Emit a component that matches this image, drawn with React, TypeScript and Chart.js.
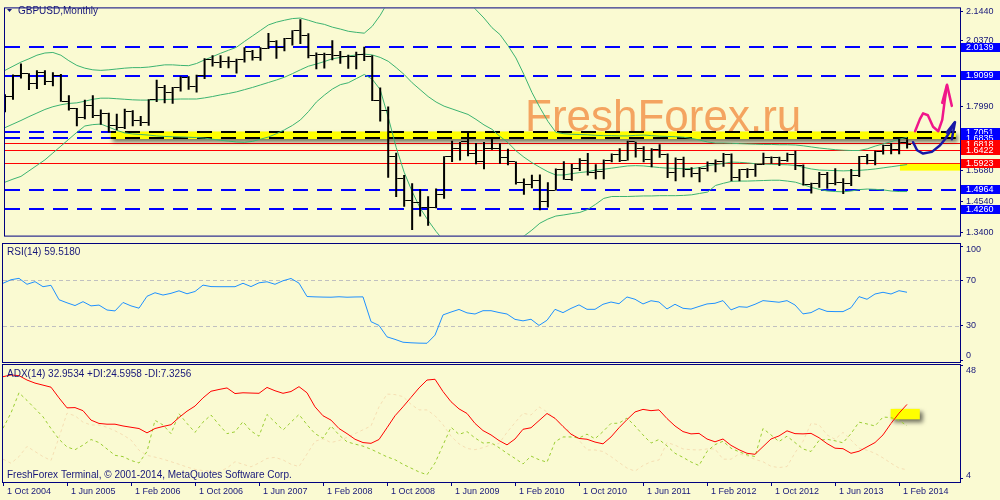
import React, { useEffect, useRef } from "react";
import { Chart, registerables } from "chart.js";

Chart.register(...registerables);

// ---------------- data (monthly bars, first bar = Oct 2004) ----------------
const firstMonth = "Oct 2004";
const opens = [1.8075,1.8335,1.9120,1.9185,1.8830,1.9205,1.8900,1.9115,1.8170,1.7910,
1.7605,1.8010,1.7655,1.7720,1.7280,1.7215,1.7795,1.7470,1.7400,1.8230,
1.8690,1.8495,1.8680,1.9040,1.8730,1.9100,1.9680,1.9580,1.9635,1.9640,
1.9680,1.9995,1.9785,2.0085,2.0330,2.0130,2.0465,2.0740,2.0570,1.9850,
1.9880,1.9870,1.9850,1.9800,1.9790,1.9890,1.9815,1.8200,1.7830,1.6180,
1.5380,1.4590,1.4485,1.4310,1.4335,1.4790,1.6160,1.6455,1.6700,1.6275,
1.5985,1.6450,1.6455,1.6150,1.5990,1.5230,1.5170,1.5295,1.4545,1.4945,
1.5690,1.5335,1.5735,1.6020,1.5580,1.5610,1.6010,1.6250,1.6040,1.6705,
1.6445,1.6060,1.6430,1.6250,1.5590,1.6080,1.5710,1.5540,1.5735,1.5910,
1.6005,1.6230,1.5420,1.5690,1.5685,1.5870,1.6150,1.6130,1.6025,1.6255,
1.5860,1.5170,1.5190,1.5530,1.5205,1.5210,1.5205,1.5495,1.6185,1.6035,
1.6365,1.6560,1.6440,1.6685];
const highs = [1.8435,1.9150,1.9550,1.9195,1.9300,1.9300,1.9235,1.9165,1.8400,1.7935,
1.8235,1.8395,1.7880,1.7760,1.7725,1.7905,1.7850,1.7640,1.8250,1.8960,
1.8770,1.8700,1.9090,1.9090,1.9140,1.9740,1.9850,1.9850,1.9800,1.9725,
2.0135,2.0035,2.0135,2.0655,2.0390,2.0475,2.0760,2.1160,2.0650,1.9950,
1.9940,2.0395,2.0000,1.9870,1.9980,2.0155,1.9850,1.8680,1.7985,1.6305,
1.5500,1.5200,1.4985,1.4730,1.5010,1.6180,1.6745,1.6700,1.7045,1.6665,
1.6695,1.6880,1.6655,1.6455,1.5990,1.5370,1.5510,1.5520,1.5235,1.5740,
1.6000,1.5900,1.6110,1.6300,1.5895,1.6060,1.6280,1.6475,1.6745,1.6710,
1.6545,1.6475,1.6620,1.6280,1.6140,1.6165,1.5780,1.5780,1.5990,1.6060,
1.6300,1.6285,1.5715,1.5750,1.5910,1.6310,1.6175,1.6165,1.6310,1.6380,
1.5880,1.5220,1.5610,1.5610,1.5750,1.5380,1.5715,1.6190,1.6260,1.6385,
1.6600,1.6665,1.6820,1.6800];
const lows = [1.7775,1.8235,1.9005,1.8585,1.8620,1.8765,1.8720,1.8160,1.7840,1.7275,
1.7525,1.7570,1.7325,1.7040,1.7125,1.7170,1.7275,1.7280,1.7290,1.8150,
1.8110,1.8090,1.8535,1.8595,1.8500,1.8985,1.9440,1.9390,1.9380,1.9190,
1.9590,1.9660,1.9650,2.0080,1.9720,1.9995,2.0200,2.0260,1.9740,1.9340,
1.9365,1.9670,1.9540,1.9360,1.9340,1.9640,1.8190,1.7445,1.5400,1.4705,
1.4350,1.3500,1.3995,1.3655,1.4295,1.4640,1.5975,1.6025,1.6180,1.5895,
1.5705,1.6420,1.5910,1.5855,1.5160,1.4780,1.5020,1.4225,1.4320,1.4940,
1.5330,1.5295,1.5650,1.5480,1.5350,1.5345,1.5960,1.5975,1.6025,1.6140,
1.5960,1.5780,1.6125,1.5395,1.5270,1.5420,1.5420,1.5235,1.5625,1.5600,
1.5800,1.5270,1.5270,1.5395,1.5435,1.5865,1.5910,1.5830,1.5980,1.5680,
1.5115,1.4830,1.5040,1.5005,1.5125,1.4815,1.5105,1.5425,1.5895,1.5855,
1.6245,1.6250,1.6250,1.6460];
const closes = [1.8335,1.9120,1.9185,1.8830,1.9205,1.8900,1.9115,1.8170,1.7910,1.7605,
1.8010,1.7655,1.7720,1.7280,1.7215,1.7795,1.7470,1.7400,1.8230,1.8690,
1.8495,1.8680,1.9040,1.8730,1.9100,1.9680,1.9580,1.9635,1.9640,1.9680,
1.9995,1.9785,2.0085,2.0330,2.0130,2.0465,2.0740,2.0570,1.9850,1.9880,
1.9870,1.9850,1.9800,1.9790,1.9890,1.9815,1.8200,1.7830,1.6180,1.5380,
1.4590,1.4485,1.4310,1.4335,1.4790,1.6160,1.6455,1.6700,1.6275,1.5985,
1.6450,1.6455,1.6150,1.5990,1.5230,1.5170,1.5295,1.4545,1.4945,1.5690,
1.5335,1.5735,1.6020,1.5580,1.5610,1.6010,1.6250,1.6040,1.6705,1.6445,
1.6060,1.6430,1.6250,1.5590,1.6080,1.5710,1.5540,1.5735,1.5910,1.6005,
1.6230,1.5420,1.5690,1.5685,1.5870,1.6150,1.6130,1.6025,1.6255,1.5860,
1.5170,1.5190,1.5530,1.5205,1.5210,1.5205,1.5495,1.6185,1.6035,1.6365,
1.6560,1.6440,1.6685,1.6620];

const bbUpper = [1.930,1.945,1.960,1.972,1.985,1.993,1.995,1.985,1.965,1.948,
1.938,1.932,1.930,1.932,1.935,1.938,1.940,1.940,1.942,1.946,
1.950,1.950,1.948,1.947,1.955,1.968,1.980,1.992,2.003,2.014,
2.035,2.055,2.075,2.095,2.105,2.112,2.118,2.120,2.112,2.103,
2.097,2.087,2.080,2.072,2.068,2.065,2.090,2.130,2.180,2.230,
2.270,2.300,2.320,2.325,2.310,2.285,2.250,2.215,2.180,2.150,
2.120,2.085,2.060,2.020,1.975,1.915,1.850,1.795,1.745,1.705,
1.700,1.698,1.697,1.696,1.694,1.693,1.693,1.692,1.692,1.694,
1.695,1.693,1.691,1.690,1.689,1.687,1.683,1.677,1.670,1.666,
1.666,1.665,1.664,1.663,1.662,1.661,1.661,1.660,1.660,1.659,
1.656,1.652,1.648,1.645,1.642,1.640,1.639,1.639,1.645,1.655,
1.663,1.671,1.680,1.687];
const bbMiddle = [1.722,1.735,1.748,1.762,1.775,1.788,1.798,1.805,1.810,1.812,
1.818,1.825,1.829,1.829,1.827,1.825,1.823,1.822,1.822,1.823,
1.824,1.825,1.826,1.826,1.826,1.830,1.835,1.841,1.846,1.852,
1.860,1.868,1.877,1.886,1.895,1.905,1.918,1.932,1.945,1.953,
1.962,1.972,1.977,1.982,1.986,1.989,1.986,1.977,1.963,1.940,
1.915,1.885,1.860,1.835,1.815,1.800,1.790,1.780,1.770,1.752,
1.732,1.716,1.690,1.668,1.638,1.615,1.595,1.578,1.562,1.550,
1.550,1.555,1.559,1.562,1.568,1.571,1.575,1.579,1.583,1.584,
1.583,1.580,1.577,1.575,1.574,1.573,1.573,1.577,1.584,1.588,
1.592,1.597,1.596,1.594,1.591,1.590,1.589,1.588,1.587,1.585,
1.578,1.572,1.568,1.567,1.566,1.565,1.566,1.567,1.569,1.572,
1.576,1.580,1.584,1.588];
const bbLower = [1.524,1.535,1.545,1.565,1.585,1.605,1.630,1.655,1.680,1.705,
1.728,1.733,1.735,1.724,1.712,1.703,1.699,1.697,1.695,1.692,
1.690,1.689,1.688,1.687,1.686,1.684,1.680,1.676,1.673,1.670,
1.669,1.672,1.680,1.688,1.700,1.714,1.730,1.750,1.780,1.815,
1.840,1.862,1.878,1.885,1.900,1.915,1.898,1.860,1.760,1.650,
1.560,1.490,1.430,1.385,1.345,1.310,1.290,1.285,1.285,1.290,
1.300,1.305,1.310,1.315,1.320,1.328,1.350,1.375,1.390,1.401,
1.405,1.410,1.414,1.425,1.444,1.465,1.472,1.472,1.472,1.473,
1.474,1.474,1.475,1.475,1.475,1.476,1.478,1.483,1.488,1.512,
1.520,1.527,1.528,1.528,1.529,1.530,1.531,1.531,1.528,1.524,
1.515,1.505,1.498,1.492,1.490,1.489,1.492,1.497,1.499,1.498,
1.496,1.492,1.490,1.490];

const rsi = [67.4,70.5,71.7,66.5,68.8,64.4,65.6,53.0,50.3,47.9,
51.3,47.6,48.3,44.0,43.2,50.6,47.6,45.6,56.0,59.1,
57.1,58.6,60.8,58.2,60.2,65.8,64.5,64.4,64.4,64.4,
67.4,64.5,67.8,68.7,66.5,69.6,71.6,67.5,55.8,55.5,
55.3,55.2,55.6,55.2,55.4,55.5,33.8,30.5,20.5,18.3,
15.8,15.3,15.0,14.9,22.0,39.7,42.2,44.5,41.5,40.5,
43.4,43.4,41.8,40.5,35.8,34.5,35.9,30.5,35.0,44.6,
41.7,45.4,48.5,44.6,44.6,49.0,51.0,49.5,55.4,53.4,
49.3,52.1,51.0,44.9,49.0,45.5,44.8,47.1,49.3,49.9,
52.2,44.1,46.9,46.4,49.0,52.2,51.5,50.8,52.2,48.4,
40.6,41.7,45.3,42.8,42.6,42.6,46.0,55.7,53.4,58.0,
59.5,58.0,60.9,59.518];
const adx = [43.8,44.5,44.2,42.5,41.3,40.5,39.7,35.5,31.6,31.7,
30.5,26.8,25.5,25.2,25.2,24.5,24.0,23.5,21.8,23.5,
24.3,25.0,27.8,30.3,32.3,35.5,38.1,38.8,39.4,37.2,
37.5,37.4,37.3,39.6,38.3,37.3,38.0,39.9,37.5,32.0,
28.5,26.8,23.5,21.5,19.3,18.0,17.7,19.2,23.8,28.5,
32.0,35.7,39.4,42.5,42.8,38.0,34.0,31.2,29.4,25.5,
22.7,21.0,18.8,17.1,19.4,23.2,23.8,26.6,29.4,27.5,
24.3,21.3,19.6,19.3,18.2,17.5,20.2,23.8,27.0,30.0,
31.0,30.5,30.8,27.4,24.5,22.3,21.4,21.6,19.4,18.3,
19.4,16.9,15.2,13.8,13.4,16.4,19.4,20.6,22.6,21.5,
21.4,21.6,19.9,17.6,15.8,15.6,13.8,14.6,16.3,18.0,
21.0,25.5,29.5,32.9534];
const plusDI = [23.6,29.6,37.5,34.5,31.3,28.1,23.5,19.3,16.3,15.2,
17.0,19.2,18.0,15.5,13.0,12.5,11.0,10.0,14.5,26.7,
24.9,21.5,29.3,25.5,22.0,26.0,28.8,25.0,21.5,22.2,
26.2,22.5,20.5,29.0,26.0,22.9,26.0,29.0,25.0,21.5,
19.7,24.5,21.0,18.3,17.4,16.6,15.4,13.9,12.4,11.3,
9.5,8.0,6.5,5.4,10.0,17.0,24.0,21.2,22.3,19.8,
17.8,18.0,16.0,13.8,11.8,9.6,12.7,11.3,10.3,18.3,
20.2,20.2,19.8,21.3,19.5,22.3,25.5,25.6,27.6,24.5,
21.0,17.8,19.2,16.7,13.8,12.2,10.4,9.0,14.5,17.2,
18.5,15.8,14.4,13.2,12.5,23.5,21.0,18.4,20.5,18.0,
15.5,14.5,18.8,19.3,18.7,17.9,21.5,26.0,25.3,24.5,
28.0,27.8,26.7,24.5958];
const minusDI = [11.5,9.9,12.5,16.5,14.5,12.5,11.0,20.0,29.5,28.5,
26.0,24.9,24.9,24.0,22.6,21.0,19.0,15.0,13.0,12.3,
11.5,10.5,9.5,8.4,7.5,7.0,6.8,6.6,8.0,10.5,
9.5,8.5,10.0,11.8,12.2,11.2,9.5,8.6,13.5,18.5,
19.5,18.0,18.8,20.0,21.5,23.0,24.5,32.0,37.0,36.8,
36.0,33.0,30.8,30.8,28.5,25.0,20.5,17.5,15.7,15.2,
16.0,17.1,17.6,22.0,25.8,29.5,28.8,32.0,30.0,27.5,
24.5,22.0,19.0,15.1,15.1,14.5,12.5,10.2,8.0,6.8,
9.0,10.5,11.2,18.0,17.0,15.5,15.2,15.1,15.5,15.5,
11.5,11.5,13.5,12.8,11.4,10.5,8.7,8.2,8.6,14.0,
18.5,25.5,25.0,21.0,19.3,22.0,19.0,15.8,15.0,13.8,
12.0,9.9,8.0,7.3256];

const xTickLabels = ["1 Oct 2004","1 Jun 2005","1 Feb 2006","1 Oct 2006","1 Jun 2007","1 Feb 2008","1 Oct 2008","1 Jun 2009","1 Feb 2010","1 Oct 2010","1 Jun 2011","1 Feb 2012","1 Oct 2012","1 Jun 2013","1 Feb 2014"];
const xTickStep = 8;
const priceTicks = [2.1440, 2.0370, 1.7990, 1.5680, 1.4540, 1.3400];
const rsiTicks = [100, 70, 30, 0];
const rsiLevels = [70, 30];
const adxTicks = [48, 4];

// horizontal levels / drawn objects (data coordinates)
const blueLevels = [2.0139, 1.9099, 1.4964, 1.4260];
const bandLevels = [1.7051, 1.6835];
const redLevels = [1.6661, 1.6422, 1.5923];
const blueMarks = [2.0139, 1.9099, 1.7051, 1.6835, 1.4964, 1.4260];
const redMarks = [1.6818, 1.6422, 1.5923];
const highlightBand = { from: 13.25, to: 119.1, top: 1.7080, bottom: 1.6805 };
const highlightSmall = { from: 112.1, to: 121, top: 1.5905, bottom: 1.5660 };
const adxHighlight = { from: 110.95, to: 114.6, top: 31.2, bottom: 27.1 };
const pinkPath = [[114.0,1.709],[114.6,1.753],[115.0,1.774],[115.6,1.767],[116.25,1.725],[116.9,1.709],[117.4,1.750],[117.75,1.829],[118.0,1.874]];
const pinkHead = [[117.4,1.812],[118.0,1.878],[118.6,1.801]];
const bluePath = [[113.75,1.669],[114.25,1.640],[115.0,1.628],[116.1,1.634],[117.1,1.657],[117.75,1.680],[118.4,1.709],[118.9,1.739]];
const blueHead = [[117.96,1.704],[119.0,1.742],[118.6,1.680]];

// ---------------- styling ----------------
const X_MIN = 0;
const X_MAX = 119.625;
const NAVY = "#000080";
const TEXT = "#16167a";
const BG = "#FAFAD2";
const FONT = "'Liberation Sans', Arial, sans-serif";

const pts = (arr: number[]) => arr.map((y, x) => ({ x, y }));

function tickImage(side: string) {
  const c = document.createElement("canvas");
  c.width = 8; c.height = 1;
  const g = c.getContext("2d")!;
  g.fillStyle = "#000";
  if (side === "open") g.fillRect(0, 0, 3, 1); else g.fillRect(5, 0, 3, 1);
  return c;
}

function hiddenX() {
  return { type: "linear", min: X_MIN, max: X_MAX, display: false, offset: false };
}

function rightAxis(min: number, max: number, ticks: number[], showLabels: boolean) {
  return {
    type: "linear", position: "right", min, max,
    afterBuildTicks: (s: any) => { s.ticks = ticks.map((v) => ({ value: v })); },
    afterFit: (s: any) => { s.width = 40; },
    grid: { drawOnChartArea: false, drawTicks: true, tickLength: 3, color: NAVY, lineWidth: 1 },
    border: { display: true, color: NAVY },
    ticks: {
      display: showLabels, color: TEXT, padding: 3, font: { family: FONT, size: 9 },
      callback: (v: any) => Number(v).toFixed(4),
    },
  };
}

function drawBorder(chart: any) {
  const { ctx, chartArea: a } = chart;
  ctx.save();
  ctx.strokeStyle = NAVY; ctx.lineWidth = 1; ctx.setLineDash([]);
  ctx.strokeRect(a.left - 0.5, a.top - 0.5, a.right - a.left + 1, a.bottom - a.top + 1);
  ctx.restore();
}

function drawSideLabels(chart: any, values: number[]) {
  const { ctx, chartArea: a, scales } = chart;
  ctx.save();
  ctx.font = `9px ${FONT}`; ctx.fillStyle = TEXT; ctx.textBaseline = "middle"; ctx.textAlign = "left";
  for (const v of values) {
    let py = scales.y.getPixelForValue(v);
    py = Math.max(a.top + 6, Math.min(a.bottom - 6, py));
    ctx.fillText(String(v), a.right + 6, py);
  }
  ctx.restore();
}

function hline(ctx: any, a: any, py: number, color: string, dash: number[], width: number, x0?: number, x1?: number) {
  const from = x0 === undefined ? a.left : x0;
  const to = x1 === undefined ? a.right : x1;
  const yy = width % 2 === 1 ? Math.round(py) + 0.5 : Math.round(py);
  ctx.strokeStyle = color; ctx.lineWidth = width; ctx.setLineDash(dash);
  ctx.lineDashOffset = from - a.left;
  ctx.beginPath(); ctx.moveTo(from, yy); ctx.lineTo(to, yy); ctx.stroke();
  ctx.setLineDash([]); ctx.lineDashOffset = 0;
}

function drawPath(ctx: any, x: any, y: any, path: number[][], color: string, width: number) {
  ctx.strokeStyle = color; ctx.lineWidth = width; ctx.lineJoin = "round"; ctx.lineCap = "round";
  ctx.beginPath();
  path.forEach((p, k) => {
    const px = x.getPixelForValue(p[0]); const py = y.getPixelForValue(p[1]);
    if (k === 0) ctx.moveTo(px, py); else ctx.lineTo(px, py);
  });
  ctx.stroke();
}

const mainPlugin = {
  id: "mainDeco",
  beforeDatasetsDraw(chart: any) {
    const { ctx, chartArea: a, scales: { x, y } } = chart;
    ctx.save();
    ctx.font = `44px ${FONT}`; ctx.fillStyle = "#F4A460"; ctx.textBaseline = "alphabetic"; ctx.textAlign = "left";
    ctx.fillText("FreshForex.ru", 525, 131);
    ctx.beginPath(); ctx.rect(a.left, a.top, a.right - a.left, a.bottom - a.top); ctx.clip();
    const dash = [15, 9];
    for (const v of redLevels) hline(ctx, a, y.getPixelForValue(v), "#FF0000", [], 1);
    for (const v of blueLevels) hline(ctx, a, y.getPixelForValue(v), "#0000FF", dash, 2);
    for (const v of bandLevels) hline(ctx, a, y.getPixelForValue(v), "#0000FF", dash, 2);
    // highlighted band with shadow
    const bx0 = x.getPixelForValue(highlightBand.from), bx1 = x.getPixelForValue(highlightBand.to);
    const by0 = y.getPixelForValue(highlightBand.top), by1 = y.getPixelForValue(highlightBand.bottom);
    ctx.save();
    ctx.shadowColor = "rgba(0,0,0,0.55)"; ctx.shadowBlur = 4; ctx.shadowOffsetX = 2; ctx.shadowOffsetY = 3;
    ctx.fillStyle = "#FFFF00";
    ctx.fillRect(bx0, by0, bx1 - bx0, by1 - by0);
    ctx.restore();
    for (const v of bandLevels) hline(ctx, a, y.getPixelForValue(v), "#000000", dash, 2, bx0, bx1);
    const sx0 = x.getPixelForValue(highlightSmall.from), sx1 = x.getPixelForValue(highlightSmall.to);
    const sy0 = y.getPixelForValue(highlightSmall.top), sy1 = y.getPixelForValue(highlightSmall.bottom);
    ctx.fillStyle = "#FFFF00";
    ctx.fillRect(sx0, sy0, sx1 - sx0, sy1 - sy0);
    ctx.restore();
  },
  afterDatasetsDraw(chart: any) {
    const { ctx, scales: { x, y } } = chart;
    ctx.save();
    drawPath(ctx, x, y, pinkPath, "#F0168A", 2.5);
    drawPath(ctx, x, y, pinkHead, "#F0168A", 2.5);
    drawPath(ctx, x, y, bluePath, "#1717A6", 2.5);
    drawPath(ctx, x, y, blueHead, "#1717A6", 2.5);
    ctx.restore();
  },
  afterDraw(chart: any) {
    const { ctx, chartArea: a, scales: { y } } = chart;
    drawBorder(chart);
    ctx.save();
    // price boxes on the axis
    const boxes = [
      ...blueMarks.map((v) => ({ v, c: "#0000FF" })),
      ...redMarks.map((v) => ({ v, c: "#FF0000" })),
    ].sort((p, q) => q.v - p.v);
    let prev = -1e9;
    ctx.font = `9px ${FONT}`; ctx.textBaseline = "middle"; ctx.textAlign = "left";
    for (const b of boxes) {
      let py = y.getPixelForValue(b.v);
      if (py - prev < 6) py = prev + 6;
      prev = py;
      ctx.fillStyle = b.c;
      ctx.fillRect(a.right + 1, Math.round(py - 4.5), 39, 9);
      ctx.fillStyle = "#FFFFFF";
      ctx.fillText(b.v.toFixed(4), a.right + 6, py);
    }
    // title
    ctx.fillStyle = TEXT;
    ctx.beginPath(); ctx.moveTo(7, 9); ctx.lineTo(12, 9); ctx.lineTo(9.5, 12); ctx.closePath(); ctx.fill();
    ctx.font = `10px ${FONT}`;
    ctx.fillText("GBPUSD,Monthly", 18, 11);
    ctx.restore();
  },
};

const rsiPlugin = {
  id: "rsiDeco",
  beforeDatasetsDraw(chart: any) {
    const { ctx, chartArea: a, scales: { y } } = chart;
    ctx.save();
    for (const v of rsiLevels) hline(ctx, a, y.getPixelForValue(v), "#C0C0C0", [4, 3], 1);
    ctx.restore();
  },
  afterDraw(chart: any) {
    drawBorder(chart);
    drawSideLabels(chart, rsiTicks);
    const { ctx } = chart;
    ctx.save();
    ctx.font = `10px ${FONT}`; ctx.fillStyle = TEXT; ctx.textBaseline = "middle"; ctx.textAlign = "left";
    ctx.fillText(`RSI(14) ${rsi[rsi.length - 1].toFixed(4)}`, 7, 10);
    ctx.restore();
  },
};

const adxPlugin = {
  id: "adxDeco",
  beforeDatasetsDraw(chart: any) {
    const { ctx, scales: { x, y } } = chart;
    const x0 = x.getPixelForValue(adxHighlight.from), x1 = x.getPixelForValue(adxHighlight.to);
    const y0 = y.getPixelForValue(adxHighlight.top), y1 = y.getPixelForValue(adxHighlight.bottom);
    ctx.save();
    ctx.shadowColor = "rgba(0,0,0,0.55)"; ctx.shadowBlur = 4; ctx.shadowOffsetX = 3; ctx.shadowOffsetY = 3;
    ctx.fillStyle = "#FFFF00";
    ctx.fillRect(x0, y0, x1 - x0, y1 - y0);
    ctx.restore();
  },
  afterDraw(chart: any) {
    drawBorder(chart);
    drawSideLabels(chart, adxTicks);
    const { ctx } = chart;
    const last = adx.length - 1;
    ctx.save();
    ctx.font = `10px ${FONT}`; ctx.fillStyle = TEXT; ctx.textBaseline = "middle"; ctx.textAlign = "left";
    ctx.fillText(`ADX(14) ${adx[last].toFixed(4)} +DI:${plusDI[last].toFixed(4)} -DI:${minusDI[last].toFixed(4)}`, 7, 11);
    ctx.fillText("FreshForex Terminal, \u00A9 2001-2014, MetaQuotes Software Corp.", 7, 112);
    ctx.restore();
  },
};

const common = {
  animation: false,
  responsive: false,
  events: [],
  plugins: { legend: { display: false }, tooltip: { enabled: false } },
  elements: { line: { tension: 0 } },
};

function lineSet(data: number[], color: string, extra: any = {}) {
  return { type: "line", data: pts(data), borderColor: color, borderWidth: 1, pointRadius: 0, fill: false, ...extra };
}

export default function App() {
  const mainRef = useRef<HTMLCanvasElement>(null);
  const rsiRef = useRef<HTMLCanvasElement>(null);
  const adxRef = useRef<HTMLCanvasElement>(null);

  useEffect(() => {
    const openImg = tickImage("open");
    const closeImg = tickImage("close");

    const main = new Chart(mainRef.current!, {
      type: "line",
      data: {
        datasets: [
          { type: "bar", data: highs.map((h, i) => ({ x: i, y: [lows[i], h] })), backgroundColor: "#000000",
            borderWidth: 0, barThickness: 2, inflateAmount: 0, grouped: false },
          { type: "line", data: pts(opens), showLine: false, pointStyle: openImg, pointRadius: 3 },
          { type: "line", data: pts(closes), showLine: false, pointStyle: closeImg, pointRadius: 3 },
          lineSet(bbUpper, "#3CB371"),
          lineSet(bbMiddle, "#3CB371"),
          lineSet(bbLower, "#3CB371"),
        ],
      } as any,
      options: {
        ...common,
        layout: { padding: { left: 3, top: 3, right: 0, bottom: 3 } },
        scales: { x: hiddenX(), y: rightAxis(1.3300, 2.1550, priceTicks, true) },
      } as any,
      plugins: [mainPlugin],
    } as any);

    const rsiChart = new Chart(rsiRef.current!, {
      type: "line",
      data: { datasets: [lineSet(rsi, "#1E90FF")] } as any,
      options: {
        ...common,
        layout: { padding: { left: 3, top: 2, right: 0, bottom: 2 } },
        scales: { x: hiddenX(), y: rightAxis(-1.51, 101.77, rsiTicks, false) },
      } as any,
      plugins: [rsiPlugin],
    } as any);

    const adxChart = new Chart(adxRef.current!, {
      type: "line",
      data: {
        datasets: [
          lineSet(adx, "#FF0000"),
          lineSet(plusDI, "#9ACD32", { borderDash: [3, 3] }),
          lineSet(minusDI, "#F5DEB3", { borderDash: [3, 3] }),
        ],
      } as any,
      options: {
        ...common,
        layout: { padding: { left: 3, top: 2, right: 0, bottom: 0 } },
        scales: {
          x: {
            type: "linear", min: X_MIN, max: X_MAX, offset: false, position: "bottom",
            afterBuildTicks: (s: any) => { s.ticks = xTickLabels.map((_, k) => ({ value: k * xTickStep })); },
            afterFit: (s: any) => { s.height = 18; },
            grid: { display: true, drawOnChartArea: false, drawTicks: true, tickLength: 4, color: NAVY, offset: false },
            border: { display: true, color: NAVY },
            ticks: {
              autoSkip: false, maxRotation: 0, minRotation: 0, align: "start", labelOffset: 4, padding: 0,
              color: TEXT, font: { family: FONT, size: 9 },
              callback: (v: any) => xTickLabels[Math.round(Number(v) / xTickStep)] ?? "",
            },
          },
          y: rightAxis(2.55, 48.39, adxTicks, false),
        },
      } as any,
      plugins: [adxPlugin],
    } as any);

    return () => { main.destroy(); rsiChart.destroy(); adxChart.destroy(); };
  }, []);

  return (
    <div style={{ position: "fixed", left: 0, top: 0, width: 1000, height: 500, background: BG, overflow: "hidden" }}
      data-first-month={firstMonth}>
      <canvas ref={mainRef} width={1000} height={244} style={{ position: "absolute", left: 0, top: 0 }} />
      <canvas ref={rsiRef} width={1000} height={122} style={{ position: "absolute", left: 0, top: 242 }} />
      <canvas ref={adxRef} width={1000} height={137} style={{ position: "absolute", left: 0, top: 363 }} />
    </div>
  );
}
